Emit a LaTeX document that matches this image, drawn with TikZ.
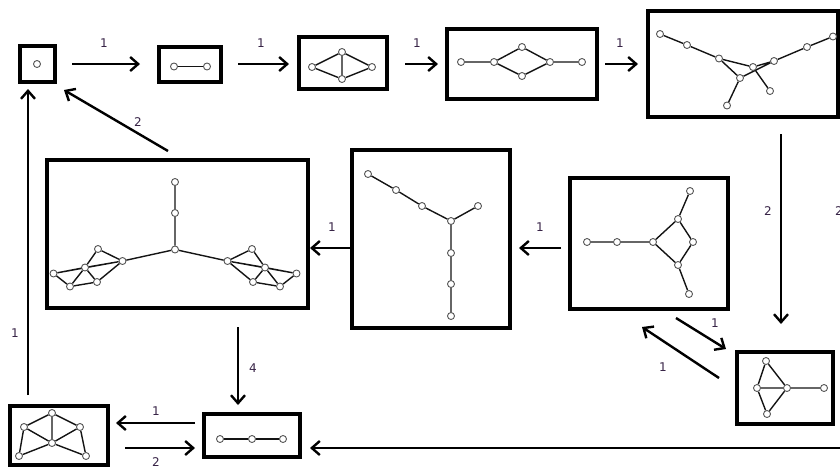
\documentclass[tikz,border=0pt]{standalone}
\usepackage{fontspec}
\setmainfont{DejaVu Sans}
\usetikzlibrary{arrows.meta,calc}
\definecolor{lbl}{RGB}{55,35,70}
\definecolor{vtx}{RGB}{85,85,85}
\definecolor{edg}{RGB}{20,20,20}
\pgfdeclarelayer{edges}
\pgfsetlayers{edges,main}
\begin{document}
\begin{tikzpicture}[x=1pt,y=-1pt,
  box/.style={draw=black, line width=3.7pt, inner sep=0pt, outer sep=0pt},
  v/.style={circle, draw=vtx, line width=0.9pt, fill=white, minimum size=7pt, inner sep=0pt},
  e/.style={draw=edg, line width=1.4pt},
  arr/.style={draw=black, line width=2.4pt, -{Straight Barb[length=8pt,width=14pt]}},
  lab/.style={font=\fontsize{12}{14}\selectfont, text=lbl, inner sep=0pt}]
\useasboundingbox (0,0) rectangle (840,467);

% ---- frames ----
\node[box, minimum width=35pt,  minimum height=36pt]  (A) at (37.5,64) {};
\node[box, minimum width=62pt,  minimum height=35pt]  (B) at (190,64.5) {};
\node[box, minimum width=88pt,  minimum height=52pt]  (C) at (343,63) {};
\node[box, minimum width=150pt, minimum height=70pt]  (D) at (522,64) {};
\node[box, minimum width=190pt, minimum height=106pt] (E) at (743,64) {};
\node[box, minimum width=96pt,  minimum height=72pt]  (F) at (785,388) {};
\node[box, minimum width=158pt, minimum height=131pt] (G) at (649,243.5) {};
\node[box, minimum width=158pt, minimum height=178pt] (H) at (431,239) {};
\node[box, minimum width=261pt, minimum height=148pt] (I) at (177.5,234) {};
\node[box, minimum width=96pt,  minimum height=43pt]  (J) at (252,435.5) {};
\node[box, minimum width=98pt,  minimum height=59pt]  (K) at (59,435.5) {};

% ---- graph in A ----
\node[v] (a1) at (37,64) {};

% ---- graph in B ----
\node[v] (b1) at (174,66.5) {};
\node[v] (b2) at (207,66.5) {};

% ---- graph in C ----
\node[v] (c1) at (312,67) {};
\node[v] (c2) at (342,52) {};
\node[v] (c3) at (342,79) {};
\node[v] (c4) at (372,67) {};

% ---- graph in D ----
\node[v] (d1) at (461,62) {};
\node[v] (d2) at (494,62) {};
\node[v] (d3) at (522,47) {};
\node[v] (d4) at (522,76) {};
\node[v] (d5) at (550,62) {};
\node[v] (d6) at (582,62) {};

% ---- graph in E ----
\node[v] (e1) at (660,34) {};
\node[v] (e2) at (687,45) {};
\node[v] (e3) at (719,58.5) {};
\node[v] (e4) at (753,67) {};
\node[v] (e5) at (774,61) {};
\node[v] (e6) at (807,47) {};
\node[v] (e7) at (833,36.5) {};
\node[v] (e8) at (740,78) {};
\node[v] (e9) at (770,91) {};
\node[v] (e10) at (727,105.5) {};

% ---- graph in F ----
\node[v] (f1) at (766,361) {};
\node[v] (f2) at (757,388) {};
\node[v] (f3) at (787,388) {};
\node[v] (f4) at (767,414) {};
\node[v] (f5) at (824,388) {};

% ---- graph in G ----
\node[v] (g1) at (587,242) {};
\node[v] (g2) at (617,242) {};
\node[v] (g3) at (653,242) {};
\node[v] (g4) at (678,219) {};
\node[v] (g5) at (690,191) {};
\node[v] (g6) at (693,242) {};
\node[v] (g7) at (678,265) {};
\node[v] (g8) at (689,294) {};

% ---- graph in H ----
\node[v] (h1) at (368,174) {};
\node[v] (h2) at (396,190) {};
\node[v] (h3) at (422,206) {};
\node[v] (h4) at (451,221) {};
\node[v] (h5) at (478,206) {};
\node[v] (h6) at (451,253) {};
\node[v] (h7) at (451,284) {};
\node[v] (h8) at (451,316) {};

% ---- graph in I ----
\node[v] (i1) at (175,182) {};
\node[v] (i2) at (175,213) {};
\node[v] (i3) at (175,249.5) {};
\node[v] (l1) at (98,249) {};
\node[v] (l2) at (122.5,261) {};
\node[v] (l3) at (85,267.5) {};
\node[v] (l4) at (53.5,273.5) {};
\node[v] (l5) at (70,286.5) {};
\node[v] (l6) at (97,282) {};
\node[v] (r1) at (252,249) {};
\node[v] (r2) at (227.5,261) {};
\node[v] (r3) at (265,267.5) {};
\node[v] (r4) at (296.5,273.5) {};
\node[v] (r5) at (280,286.5) {};
\node[v] (r6) at (253,282) {};

% ---- graph in J ----
\node[v] (j1) at (220,439) {};
\node[v] (j2) at (252,439) {};
\node[v] (j3) at (283,439) {};

% ---- graph in K ----
\node[v] (k1) at (52,413) {};
\node[v] (k2) at (24,427) {};
\node[v] (k3) at (80,427) {};
\node[v] (k4) at (52,443) {};
\node[v] (k5) at (19,456) {};
\node[v] (k6) at (86,456) {};

% ---- graph edges ----
\begin{pgfonlayer}{edges}
\draw[e] (b1) -- (b2);
\draw[e] (c1) -- (c2) (c1) -- (c3) (c2) -- (c3) (c2) -- (c4) (c3) -- (c4);
\draw[e] (d1) -- (d2) (d2) -- (d3) (d2) -- (d4) (d3) -- (d5) (d4) -- (d5) (d5) -- (d6);
\draw[e] (e1) -- (e2) (e2) -- (e3) (e3) -- (e4) (e4) -- (e5) (e5) -- (e6) (e6) -- (e7)
         (e3) -- (e8) (e8) -- (e5) (e8) -- (e10) (e4) -- (e9);
\draw[e] (f1) -- (f2) (f1) -- (f3) (f2) -- (f3) (f2) -- (f4) (f3) -- (f4) (f3) -- (f5);
\draw[e] (g1) -- (g2) (g2) -- (g3) (g3) -- (g4) (g3) -- (g7) (g4) -- (g6) (g7) -- (g6)
         (g4) -- (g5) (g7) -- (g8);
\draw[e] (h1) -- (h2) (h2) -- (h3) (h3) -- (h4) (h4) -- (h5) (h4) -- (h6) (h6) -- (h7) (h7) -- (h8);
\draw[e] (i1) -- (i2) (i2) -- (i3) (i3) -- (l2) (i3) -- (r2);
\draw[e] (l1) -- (l2) (l1) -- (l3) (l2) -- (l3) (l3) -- (l4) (l4) -- (l2) (l2) -- (l6)
         (l3) -- (l5) (l3) -- (l6) (l4) -- (l5) (l5) -- (l6);
\draw[e] (r1) -- (r2) (r1) -- (r3) (r2) -- (r3) (r3) -- (r4) (r4) -- (r2) (r2) -- (r6)
         (r3) -- (r5) (r3) -- (r6) (r4) -- (r5) (r5) -- (r6);
\draw[e] (j1) -- (j2) (j2) -- (j3);
\draw[e] (k1) -- (k2) (k1) -- (k3) (k1) -- (k4) (k2) -- (k4) (k3) -- (k4)
         (k2) -- (k5) (k3) -- (k6) (k4) -- (k5) (k4) -- (k6);
\end{pgfonlayer}

% ---- transitions ----
\coordinate (offR) at (846,448);
\draw[arr] ($(A.east)+(17,0)$) -- ($(B.west)+(-19,-0.5)$);
\draw[arr] ($(B.east)+(17,-0.5)$) -- ($(C.west)+(-10,1)$);
\draw[arr] ($(C.east)+(18,1)$) -- ($(D.west)+(-9,0)$);
\draw[arr] ($(D.east)+(8,0)$) -- ($(E.west)+(-10,0)$);
\draw[arr] ($(E.south)+(38,17)$) -- ($(F.north)+(-4,-28)$);
\draw[arr] ($(G.south east)+(-52,9)$) -- ($(F.north west)+(-11,-3)$);
\draw[arr] ($(F.west)+(-18,-10)$) -- ($(G.south east)+(-86,18)$);
\draw[arr] ($(G.west)+(-9,4.5)$) -- ($(H.east)+(9,9)$);
\draw[arr] ($(H.west)+(0,9)$) -- ($(I.east)+(2,14)$);
\draw[arr] ($(I.north)+(-9.5,-9)$) -- ($(A.south east)+(9,8)$);
\draw[arr] ($(I.south)+(60.5,19)$) -- ($(J.north)+(-14,-9)$);
\draw[arr] ($(K.north)+(-31,-11)$) -- ($(A.south)+(-9.5,7)$);
\draw[arr] ($(J.west)+(-9,-12.5)$) -- ($(K.east)+(8,-12.5)$);
\draw[arr] ($(K.east)+(17,12.5)$) -- ($(J.west)+(-9,12.5)$);
\draw[arr] (offR) -- ($(J.east)+(10,12.5)$);

% ---- transition counts ----
\node[lab] (t1)  at (104,43)  {1};
\node[lab] (t2)  at (261,43)  {1};
\node[lab] (t3)  at (417,43)  {1};
\node[lab] (t4)  at (620,43)  {1};
\node[lab] (t5)  at (768,211) {2};
\node[lab] (t6)  at (839,211) {2};
\node[lab] (t7)  at (715,323) {1};
\node[lab] (t8)  at (663,367) {1};
\node[lab] (t9)  at (540,227) {1};
\node[lab] (t10) at (332,227) {1};
\node[lab] (t11) at (138,122) {2};
\node[lab] (t12) at (253,368) {4};
\node[lab] (t13) at (15,333)  {1};
\node[lab] (t14) at (156,411) {1};
\node[lab] (t15) at (156,462) {2};
\end{tikzpicture}
\end{document}
